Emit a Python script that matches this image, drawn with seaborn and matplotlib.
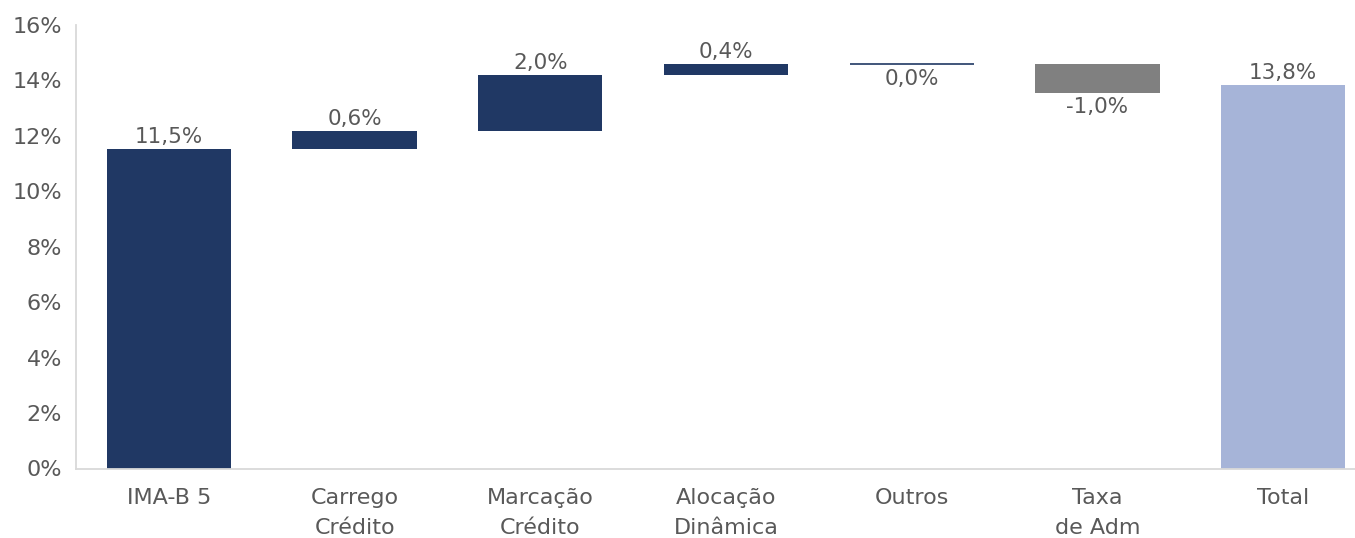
import matplotlib
matplotlib.use("Agg")
import matplotlib.pyplot as plt
import seaborn as sns
import pandas as pd
import numpy as np

categories = ["IMA-B 5", "Carrego\nCrédito", "Marcação\nCrédito", "Alocação\nDinâmica",
              "Outros", "Taxa\nde Adm", "Total"]
contributions = [11.54, 0.63, 2.03, 0.38, 0.0, -1.03]
total_value = 13.83
bar_colors = ["#203864", "#203864", "#203864", "#203864", "#203864", "#808080", "#A6B4D8"]
y_ticks = [0, 2, 4, 6, 8, 10, 12, 14, 16]

# waterfall geometry from the data
cum = np.cumsum(contributions)
starts = np.concatenate([[0], cum[:-1]])
lows = [min(s, c) for s, c in zip(starts, cum)] + [0.0]
highs = [max(s, c) for s, c in zip(starts, cum)] + [total_value]
values = contributions + [total_value]

df = pd.DataFrame({"cat": categories, "height": np.array(highs) - np.array(lows),
                   "low": lows})

sns.set_theme(style="white")
plt.rcParams["font.family"] = ["DejaVu Sans"]
text_color = "#595959"
fs_lab = 15.5
fs_tick = 16

fig = plt.figure(figsize=(13.55, 5.38), dpi=100)
ax = fig.add_axes([76 / 1355, (538 - 468.5) / 538, 1300 / 1355, (468.5 - 25) / 538])

sns.barplot(data=df, x="cat", y="height", bottom=df["low"].values, width=0.67,
            color="#203864", ax=ax, saturation=1)

for i, p in enumerate(ax.patches):
    p.set_facecolor(bar_colors[i])
    p.set_edgecolor(bar_colors[i])
    if values[i] == 0:
        p.set_linewidth(1.2)
    else:
        p.set_linewidth(0)

for i, p in enumerate(ax.patches):
    xc = p.get_x() + p.get_width() / 2
    label = f"{values[i]:.1f}%".replace(".", ",")
    if values[i] > 0 or i == len(values) - 1:
        ax.annotate(label, (xc, highs[i]), xytext=(0, 1.5), textcoords="offset points",
                    ha="center", va="bottom", fontsize=fs_lab, color=text_color)
    else:
        ax.annotate(label, (xc, lows[i]), xytext=(0, -3), textcoords="offset points",
                    ha="center", va="top", fontsize=fs_lab, color=text_color)

ax.set_ylim(0, 16)
ax.set_xlim(-0.5, 6.5)
ax.set_yticks(y_ticks)
ax.set_yticklabels([f"{t}%" for t in y_ticks], fontsize=fs_tick, color=text_color)
ax.set_xticks(range(len(categories)))
ax.set_xticklabels(categories, fontsize=fs_tick, color=text_color, linespacing=1.65)
ax.tick_params(axis="x", pad=14, length=0)
ax.tick_params(axis="y", pad=10, length=0)
ax.set_xlabel("")
ax.set_ylabel("")

for s in ["top", "right"]:
    ax.spines[s].set_visible(False)
for s in ["left", "bottom"]:
    ax.spines[s].set_color("#d9d9d9")
    ax.spines[s].set_linewidth(1.3)

fig.savefig("out.png", dpi=100)
